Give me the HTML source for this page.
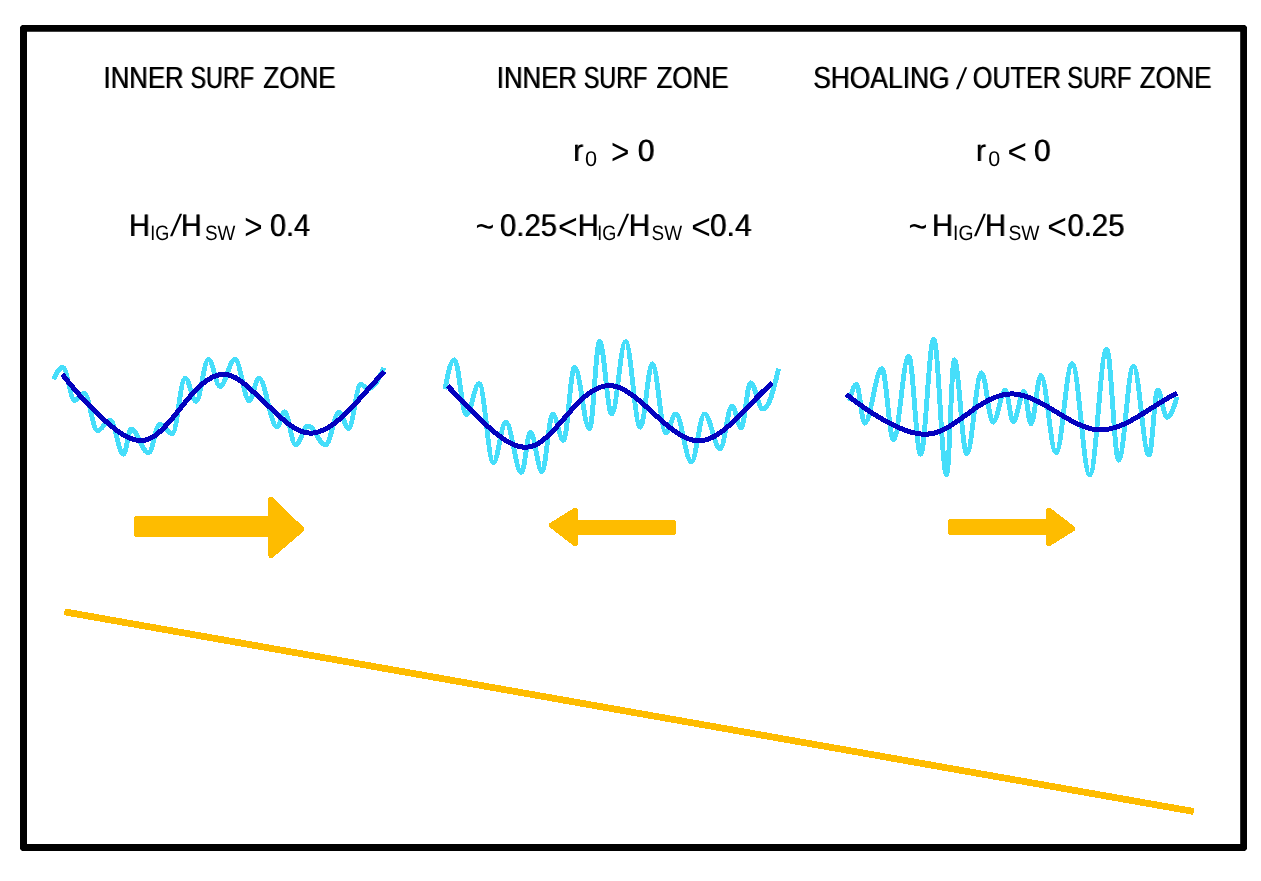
<!DOCTYPE html>
<html lang="en"><head><meta charset="utf-8"><title>Surf zone infragravity wave schematic</title>
<style>
html,body{margin:0;padding:0;background:#fff;}
body{width:1261px;height:881px;overflow:hidden;font-family:"Liberation Sans",sans-serif;}
svg{display:block;}
text{font-family:"Liberation Sans",sans-serif;fill:#000;text-rendering:geometricPrecision;}
</style></head><body>
<svg width="1261" height="881" viewBox="0 0 1261 881">
<rect x="0" y="0" width="1261" height="881" fill="#ffffff"/>
<path fill="#000" fill-rule="evenodd" d="M22,25 H1245 L1247,27 V849 L1245,851 H22 L20,849 V27 Z M27,31.8 V844 H1240.2 V31.8 Z"/>
<defs><filter id="hb" x="-25%" y="-10%" width="150%" height="120%" color-interpolation-filters="sRGB"><feOffset in="SourceGraphic" dx="1" dy="0" result="o"/><feComponentTransfer in="o" result="o2"><feFuncA type="linear" slope="0.6"/></feComponentTransfer><feMerge><feMergeNode in="SourceGraphic"/><feMergeNode in="o2"/></feMerge></filter></defs>
<g id="labels">
<g><text x="103.37" y="88.00" font-size="30.50" textLength="80.11" lengthAdjust="spacingAndGlyphs" filter="url(#hb)">INNER</text>
<text x="190.29" y="88.00" font-size="30.50" textLength="63.51" lengthAdjust="spacingAndGlyphs" filter="url(#hb)">SURF</text>
<text x="263.10" y="88.00" font-size="30.50" textLength="72.12" lengthAdjust="spacingAndGlyphs" filter="url(#hb)">ZONE</text></g>
<g><text x="496.50" y="88.00" font-size="30.50" textLength="80.25" lengthAdjust="spacingAndGlyphs" filter="url(#hb)">INNER</text>
<text x="583.45" y="88.00" font-size="30.50" textLength="63.70" lengthAdjust="spacingAndGlyphs" filter="url(#hb)">SURF</text>
<text x="656.19" y="88.00" font-size="30.50" textLength="72.27" lengthAdjust="spacingAndGlyphs" filter="url(#hb)">ZONE</text></g>
<g><text x="812.89" y="88.00" font-size="30.50" textLength="136.51" lengthAdjust="spacingAndGlyphs" filter="url(#hb)">SHOALING</text>
<text transform="translate(955.93,88.55) skewX(-7.71)" font-size="29.98">/</text>
<text x="972.58" y="88.00" font-size="30.50" textLength="87.98" lengthAdjust="spacingAndGlyphs" filter="url(#hb)">OUTER</text>
<text x="1067.12" y="88.00" font-size="30.50" textLength="63.92" lengthAdjust="spacingAndGlyphs" filter="url(#hb)">SURF</text>
<text x="1139.51" y="88.00" font-size="30.50" textLength="71.68" lengthAdjust="spacingAndGlyphs" filter="url(#hb)">ZONE</text></g>
<g><text x="572.98" y="160.80" font-size="30.80" textLength="9.91" lengthAdjust="spacingAndGlyphs" filter="url(#hb)">r</text><text x="585.06" y="165.70" font-size="21.30" textLength="12.09" lengthAdjust="spacingAndGlyphs">0</text>
<text x="611.08" y="163.83" font-size="36.31" textLength="18.39" lengthAdjust="spacingAndGlyphs">&gt;</text>
<text x="637.62" y="160.80" font-size="30.80" textLength="16.78" lengthAdjust="spacingAndGlyphs" filter="url(#hb)">0</text></g>
<g><text x="975.73" y="160.80" font-size="30.80" textLength="9.84" lengthAdjust="spacingAndGlyphs" filter="url(#hb)">r</text><text x="988.21" y="165.70" font-size="21.30" textLength="11.97" lengthAdjust="spacingAndGlyphs">0</text>
<text x="1007.46" y="163.81" font-size="36.06" textLength="19.39" lengthAdjust="spacingAndGlyphs">&lt;</text>
<text x="1033.73" y="160.80" font-size="30.80" textLength="16.64" lengthAdjust="spacingAndGlyphs" filter="url(#hb)">0</text></g>
<g><text x="128.66" y="235.90" font-size="31.40" textLength="20.93" lengthAdjust="spacingAndGlyphs" filter="url(#hb)">H</text><text x="150.31" y="239.60" font-size="20.90" textLength="19.05" lengthAdjust="spacingAndGlyphs">IG</text><text transform="translate(169.88,236.25) skewX(-9.30)" font-size="30.60">/</text><text x="180.65" y="235.90" font-size="31.40" textLength="20.66" lengthAdjust="spacingAndGlyphs" filter="url(#hb)">H</text><text x="204.88" y="239.60" font-size="20.90" textLength="30.44" lengthAdjust="spacingAndGlyphs">SW</text>
<text x="244.32" y="238.95" font-size="36.53" textLength="18.32" lengthAdjust="spacingAndGlyphs">&gt;</text>
<text x="269.73" y="235.90" font-size="31.40" textLength="40.11" lengthAdjust="spacingAndGlyphs" filter="url(#hb)">0.4</text></g>
<g><text x="475.44" y="239.13" font-size="38.00" textLength="18.89" lengthAdjust="spacingAndGlyphs">~</text>
<text x="499.87" y="235.90" font-size="31.40" textLength="56.77" lengthAdjust="spacingAndGlyphs" filter="url(#hb)">0.25</text><text x="558.10" y="238.92" font-size="36.39" textLength="19.73" lengthAdjust="spacingAndGlyphs">&lt;</text><text x="577.61" y="235.90" font-size="31.40" textLength="20.90" lengthAdjust="spacingAndGlyphs" filter="url(#hb)">H</text><text x="597.35" y="239.60" font-size="20.90" textLength="19.07" lengthAdjust="spacingAndGlyphs">IG</text><text transform="translate(617.07,236.25) skewX(-9.33)" font-size="30.60">/</text><text x="628.46" y="235.90" font-size="31.40" textLength="21.42" lengthAdjust="spacingAndGlyphs" filter="url(#hb)">H</text><text x="651.60" y="239.60" font-size="20.90" textLength="30.50" lengthAdjust="spacingAndGlyphs">SW</text>
<text x="691.32" y="238.95" font-size="36.16" textLength="19.55" lengthAdjust="spacingAndGlyphs">&lt;</text><text x="709.74" y="235.90" font-size="31.40" textLength="41.57" lengthAdjust="spacingAndGlyphs" filter="url(#hb)">0.4</text></g>
<g><text x="908.58" y="239.13" font-size="38.00" textLength="18.94" lengthAdjust="spacingAndGlyphs">~</text>
<text x="931.66" y="235.90" font-size="31.40" textLength="21.07" lengthAdjust="spacingAndGlyphs" filter="url(#hb)">H</text><text x="953.12" y="239.60" font-size="20.90" textLength="20.41" lengthAdjust="spacingAndGlyphs">IG</text><text transform="translate(974.05,236.25) skewX(-8.93)" font-size="30.60">/</text><text x="984.74" y="235.90" font-size="31.40" textLength="21.02" lengthAdjust="spacingAndGlyphs" filter="url(#hb)">H</text><text x="1008.49" y="239.60" font-size="20.90" textLength="31.09" lengthAdjust="spacingAndGlyphs">SW</text>
<text x="1047.35" y="238.94" font-size="36.47" textLength="19.62" lengthAdjust="spacingAndGlyphs">&lt;</text><text x="1067.20" y="235.90" font-size="31.40" textLength="57.02" lengthAdjust="spacingAndGlyphs" filter="url(#hb)">0.25</text></g>
</g>
<g id="waves" fill="none" stroke-linecap="butt" stroke-linejoin="round" shape-rendering="crispEdges">
<path d="M53.6,379.3 C56.6,372.8 59.3,367.4 62.8,367.4 C67.1,367.4 70.4,400.4 74.7,400.4 C78.2,400.4 80.7,393.1 84.2,393.1 C89.0,393.1 92.7,430.6 97.5,430.6 C102.1,430.6 105.6,420.3 110.2,420.3 C115.0,420.3 118.7,454.2 123.5,454.2 C126.3,454.2 128.3,429.2 131.1,429.2 C137.4,429.2 142.2,452.8 148.5,452.8 C152.7,452.8 155.7,424.2 159.9,424.2 C164.4,424.2 167.7,433.8 172.2,433.8 C176.9,433.8 180.5,378.1 185.2,378.1 C189.1,378.1 192.1,401.3 196.0,401.3 C200.6,401.3 203.9,359.3 208.5,359.3 C212.7,359.3 215.8,386.4 220.0,386.4 C225.5,386.4 229.5,359.3 235.0,359.3 C240.2,359.3 244.1,400.7 249.3,400.7 C252.8,400.7 255.4,378.2 258.9,378.2 C265.5,378.2 270.5,427.1 277.1,427.1 C279.8,427.1 281.8,411.8 284.5,411.8 C288.6,411.8 291.6,444.9 295.7,444.9 C300.2,444.9 303.5,426.0 308.0,426.0 C314.4,426.0 319.2,444.9 325.6,444.9 C330.6,444.9 334.2,412.1 339.2,412.1 C342.6,412.1 345.1,428.5 348.5,428.5 C353.0,428.5 356.3,384.2 360.8,384.2 C363.3,384.2 365.3,388.9 367.8,388.9 C374.0,388.9 378.7,379.4 384.0,367.8" stroke="#46defa" stroke-width="4.9"/>
<path d="M62.3,374.3 C64.3,376.9 66.3,379.4 68.3,381.8 C70.3,384.3 72.2,386.7 74.2,389.0 C76.2,391.3 78.2,393.6 80.2,395.8 C82.2,398.1 84.2,400.2 86.2,402.3 C88.2,404.5 90.1,406.5 92.1,408.5 C94.1,410.5 96.1,412.4 98.1,414.3 C100.1,416.2 102.1,418.0 104.1,419.8 C106.1,421.6 108.0,423.3 110.0,425.0 C112.0,426.6 114.0,428.3 116.0,429.8 C118.0,431.3 120.0,432.7 122.0,434.0 C124.0,435.2 125.9,436.4 127.9,437.3 C129.9,438.3 131.9,439.0 133.9,439.6 C135.9,440.1 137.9,440.5 139.9,440.6 C141.9,440.6 143.8,440.4 145.8,440.0 C147.8,439.5 149.8,438.7 151.8,437.6 C153.8,436.5 155.8,435.1 157.8,433.5 C159.8,431.8 161.7,430.0 163.7,427.9 C165.7,425.9 167.7,423.7 169.7,421.4 C171.7,419.1 173.7,416.7 175.7,414.2 C177.7,411.8 179.6,409.3 181.6,406.8 C183.6,404.3 185.6,401.8 187.6,399.4 C189.6,397.0 191.6,394.7 193.6,392.5 C195.6,390.4 197.5,388.3 199.5,386.5 C201.5,384.6 203.5,383.0 205.5,381.5 C207.5,380.0 209.5,378.7 211.5,377.7 C213.5,376.6 215.4,375.8 217.4,375.3 C219.4,374.7 221.4,374.4 223.4,374.4 C225.4,374.4 227.4,374.6 229.4,375.2 C231.4,375.8 233.3,376.7 235.3,377.7 C237.3,378.8 239.3,380.1 241.3,381.6 C243.3,383.1 245.3,384.7 247.3,386.4 C249.3,388.1 251.2,389.9 253.2,391.7 C255.2,393.5 257.2,395.4 259.2,397.2 C261.2,399.1 263.2,401.0 265.2,402.9 C267.2,404.8 269.1,406.7 271.1,408.5 C273.1,410.4 275.1,412.3 277.1,414.2 C279.1,416.0 281.1,417.8 283.1,419.5 C285.1,421.2 287.0,422.8 289.0,424.3 C291.0,425.7 293.0,427.1 295.0,428.2 C297.0,429.4 299.0,430.4 301.0,431.2 C303.0,431.9 304.9,432.5 306.9,432.8 C308.9,433.1 310.9,433.1 312.9,433.0 C314.9,432.8 316.9,432.4 318.9,431.8 C320.9,431.1 322.8,430.3 324.8,429.3 C326.8,428.3 328.8,427.2 330.8,425.8 C332.8,424.5 334.8,423.0 336.8,421.4 C338.8,419.8 340.7,418.1 342.7,416.3 C344.7,414.4 346.7,412.5 348.7,410.5 C350.7,408.5 352.7,406.4 354.7,404.2 C356.7,402.1 358.6,399.9 360.6,397.7 C362.6,395.5 364.6,393.2 366.6,391.0 C368.6,388.8 370.6,386.5 372.6,384.3 C374.6,382.1 376.5,379.9 378.5,377.8 C380.5,375.6 382.5,373.6 384.5,371.5" stroke="#0402be" stroke-width="5.0"/>
<path d="M444.9,389.3 C448.0,373.0 450.8,359.7 454.4,359.7 C458.7,359.7 462.0,414.8 466.3,414.8 C471.0,414.8 474.4,383.6 479.1,383.6 C484.3,383.6 488.2,462.6 493.4,462.6 C497.9,462.6 501.3,422.2 505.8,422.2 C511.5,422.2 515.7,472.4 521.4,472.4 C524.7,472.4 527.2,432.1 530.5,432.1 C534.7,432.1 537.8,471.6 542.0,471.6 C545.9,471.6 548.8,414.0 552.7,414.0 C556.6,414.0 559.5,440.3 563.4,440.3 C567.5,440.3 570.5,367.1 574.6,367.1 C580.0,367.1 584.1,428.7 589.5,428.7 C593.2,428.7 595.9,341.6 599.6,341.6 C604.0,341.6 607.3,414.0 611.7,414.0 C616.7,414.0 620.5,341.6 625.5,341.6 C630.9,341.6 634.9,427.2 640.3,427.2 C644.7,427.2 647.9,363.8 652.3,363.8 C657.2,363.8 660.9,432.9 665.8,432.9 C669.4,432.9 672.1,414.0 675.7,414.0 C681.4,414.0 685.6,461.7 691.3,461.7 C696.1,461.7 699.7,414.0 704.5,414.0 C710.2,414.0 714.4,448.6 720.1,448.6 C724.5,448.6 727.7,406.0 732.1,406.0 C735.4,406.0 737.9,427.8 741.2,427.8 C744.6,427.8 747.1,382.8 750.5,382.8 C755.0,382.8 758.4,409.1 762.9,409.1 C768.9,409.1 773.4,390.9 778.6,368.7" stroke="#46defa" stroke-width="4.9"/>
<path d="M447.7,386.1 C449.7,388.1 451.7,390.2 453.7,392.3 C455.7,394.4 457.7,396.5 459.7,398.5 C461.7,400.6 463.7,402.7 465.7,404.8 C467.7,406.9 469.7,408.9 471.7,410.9 C473.7,413.0 475.7,415.0 477.7,416.9 C479.7,418.9 481.8,420.8 483.8,422.7 C485.8,424.6 487.8,426.4 489.8,428.2 C491.8,429.9 493.8,431.6 495.8,433.2 C497.8,434.9 499.8,436.4 501.8,437.8 C503.8,439.2 505.8,440.5 507.8,441.7 C509.8,442.9 511.8,443.9 513.8,444.7 C515.8,445.5 517.8,446.2 519.8,446.6 C521.8,447.0 523.8,447.2 525.8,447.2 C527.8,447.2 529.8,446.9 531.8,446.3 C533.8,445.7 535.8,444.8 537.8,443.7 C539.8,442.5 541.8,441.1 543.8,439.5 C545.9,437.9 547.9,436.0 549.9,434.1 C551.9,432.1 553.9,430.0 555.9,427.8 C557.9,425.6 559.9,423.3 561.9,421.0 C563.9,418.7 565.9,416.4 567.9,414.1 C569.9,411.8 571.9,409.5 573.9,407.3 C575.9,405.1 577.9,403.0 579.9,401.1 C581.9,399.2 583.9,397.4 585.9,395.7 C587.9,394.1 589.9,392.7 591.9,391.4 C593.9,390.1 595.9,389.0 597.9,388.2 C599.9,387.3 601.9,386.6 603.9,386.2 C605.9,385.8 607.9,385.6 610.0,385.6 C612.0,385.6 614.0,386.0 616.0,386.5 C618.0,387.0 620.0,387.8 622.0,388.8 C624.0,389.7 626.0,390.9 628.0,392.2 C630.0,393.5 632.0,394.9 634.0,396.4 C636.0,398.0 638.0,399.6 640.0,401.3 C642.0,403.0 644.0,404.7 646.0,406.5 C648.0,408.3 650.0,410.1 652.0,412.0 C654.0,413.8 656.0,415.6 658.0,417.4 C660.0,419.2 662.0,421.0 664.0,422.7 C666.0,424.5 668.0,426.1 670.0,427.7 C672.0,429.3 674.0,430.8 676.1,432.2 C678.1,433.5 680.1,434.8 682.1,435.9 C684.1,437.0 686.1,437.9 688.1,438.7 C690.1,439.5 692.1,440.0 694.1,440.4 C696.1,440.8 698.1,440.9 700.1,440.8 C702.1,440.7 704.1,440.3 706.1,439.8 C708.1,439.2 710.1,438.4 712.1,437.5 C714.1,436.5 716.1,435.4 718.1,434.1 C720.1,432.8 722.1,431.3 724.1,429.7 C726.1,428.2 728.1,426.4 730.1,424.7 C732.1,422.9 734.1,421.0 736.1,419.0 C738.1,417.0 740.2,415.0 742.2,413.0 C744.2,410.9 746.2,408.8 748.2,406.7 C750.2,404.6 752.2,402.5 754.2,400.4 C756.2,398.3 758.2,396.3 760.2,394.3 C762.2,392.3 764.2,390.3 766.2,388.5 C768.2,386.6 770.2,384.8 772.2,383.1" stroke="#0402be" stroke-width="5.0"/>
<path d="M849.5,401.0 C851.8,391.9 853.8,384.4 856.4,384.4 C859.4,384.4 861.6,423.1 864.6,423.1 C870.9,423.1 875.6,368.7 881.9,368.7 C886.1,368.7 889.2,439.5 893.4,439.5 C899.0,439.5 903.1,356.4 908.7,356.4 C913.0,356.4 916.3,454.3 920.6,454.3 C925.4,454.3 928.9,339.1 933.7,339.1 C938.4,339.1 941.9,474.9 946.6,474.9 C949.4,474.9 951.5,359.7 954.3,359.7 C958.8,359.7 962.2,453.5 966.7,453.5 C972.1,453.5 976.1,372.9 981.5,372.9 C985.7,372.9 988.8,422.2 993.0,422.2 C997.5,422.2 1000.8,390.1 1005.3,390.1 C1008.2,390.1 1010.3,421.6 1013.2,421.6 C1017.1,421.6 1020.1,391.5 1024.0,391.5 C1026.5,391.5 1028.5,423.7 1031.0,423.7 C1034.6,423.7 1037.3,375.3 1040.9,375.3 C1046.4,375.3 1050.5,452.7 1056.0,452.7 C1061.9,452.7 1066.2,363.8 1072.1,363.8 C1078.5,363.8 1083.4,474.9 1089.8,474.9 C1096.0,474.9 1100.5,349.0 1106.7,349.0 C1111.0,349.0 1114.3,460.1 1118.6,460.1 C1124.0,460.1 1128.0,366.3 1133.4,366.3 C1139.1,366.3 1143.3,455.1 1149.0,455.1 C1152.2,455.1 1154.5,390.1 1157.7,390.1 C1161.1,390.1 1163.6,417.2 1167.0,417.2 C1170.8,417.2 1173.7,408.1 1177.0,397.0" stroke="#46defa" stroke-width="4.9"/>
<path d="M846.4,394.3 C848.4,395.9 850.4,397.5 852.4,399.1 C854.4,400.6 856.4,402.1 858.4,403.6 C860.4,405.1 862.4,406.5 864.4,407.9 C866.4,409.3 868.5,410.7 870.5,412.0 C872.5,413.3 874.5,414.5 876.5,415.7 C878.5,417.0 880.5,418.1 882.5,419.3 C884.5,420.4 886.5,421.5 888.5,422.6 C890.5,423.6 892.5,424.6 894.5,425.6 C896.5,426.5 898.5,427.5 900.5,428.3 C902.5,429.2 904.5,430.0 906.5,430.7 C908.6,431.4 910.6,432.0 912.6,432.5 C914.6,433.0 916.6,433.4 918.6,433.7 C920.6,434.0 922.6,434.2 924.6,434.2 C926.6,434.2 928.6,434.1 930.6,433.8 C932.6,433.5 934.6,433.1 936.6,432.4 C938.6,431.8 940.6,431.0 942.6,430.0 C944.6,429.1 946.6,428.0 948.6,426.8 C950.7,425.7 952.7,424.4 954.7,423.0 C956.7,421.7 958.7,420.3 960.7,418.9 C962.7,417.4 964.7,415.9 966.7,414.5 C968.7,413.0 970.7,411.6 972.7,410.1 C974.7,408.7 976.7,407.3 978.7,406.0 C980.7,404.7 982.7,403.5 984.7,402.3 C986.7,401.2 988.7,400.1 990.7,399.2 C992.8,398.2 994.8,397.4 996.8,396.7 C998.8,396.0 1000.8,395.4 1002.8,395.0 C1004.8,394.5 1006.8,394.2 1008.8,394.1 C1010.8,393.9 1012.8,393.9 1014.8,394.1 C1016.8,394.2 1018.8,394.6 1020.8,395.0 C1022.8,395.5 1024.8,396.1 1026.8,396.7 C1028.8,397.4 1030.8,398.2 1032.9,399.1 C1034.9,400.0 1036.9,401.0 1038.9,402.0 C1040.9,403.0 1042.9,404.1 1044.9,405.2 C1046.9,406.3 1048.9,407.5 1050.9,408.7 C1052.9,409.9 1054.9,411.1 1056.9,412.3 C1058.9,413.5 1060.9,414.7 1062.9,415.9 C1064.9,417.1 1066.9,418.3 1068.9,419.4 C1070.9,420.5 1072.9,421.6 1075.0,422.6 C1077.0,423.6 1079.0,424.6 1081.0,425.4 C1083.0,426.2 1085.0,427.0 1087.0,427.6 C1089.0,428.3 1091.0,428.8 1093.0,429.2 C1095.0,429.5 1097.0,429.8 1099.0,429.9 C1101.0,429.9 1103.0,429.9 1105.0,429.6 C1107.0,429.4 1109.0,429.1 1111.0,428.6 C1113.0,428.1 1115.0,427.5 1117.1,426.8 C1119.1,426.1 1121.1,425.3 1123.1,424.5 C1125.1,423.6 1127.1,422.6 1129.1,421.6 C1131.1,420.5 1133.1,419.4 1135.1,418.3 C1137.1,417.1 1139.1,415.9 1141.1,414.7 C1143.1,413.5 1145.1,412.2 1147.1,411.0 C1149.1,409.7 1151.1,408.4 1153.1,407.1 C1155.1,405.8 1157.2,404.6 1159.2,403.3 C1161.2,402.1 1163.2,400.8 1165.2,399.6 C1167.2,398.4 1169.2,397.3 1171.2,396.2 C1173.2,395.1 1175.2,394.1 1177.2,393.1" stroke="#0402be" stroke-width="5.0"/>
</g>
<g id="arrows" shape-rendering="crispEdges">
<polygon points="137.00,518.96 271.20,518.96 271.20,499.90 301.20,529.30 271.20,555.07 271.20,534.00 137.00,534.00" fill="#febc00" stroke="#febc00" stroke-width="6.0" stroke-linejoin="round"/>
<polygon points="672.90,523.10 574.95,523.10 574.95,510.90 552.00,525.30 574.95,543.07 574.95,532.00 672.90,532.00" fill="#febc00" stroke="#febc00" stroke-width="6.0" stroke-linejoin="round"/>
<polygon points="950.90,522.00 1049.10,522.00 1049.10,510.90 1072.20,528.60 1049.10,543.07 1049.10,532.20 950.90,532.20" fill="#febc00" stroke="#febc00" stroke-width="6.0" stroke-linejoin="round"/>
</g>
<line x1="64.3" y1="611.8" x2="1193.8" y2="811.5" stroke="#febc00" stroke-width="6.8" shape-rendering="crispEdges"/>
</svg>
</body></html>
